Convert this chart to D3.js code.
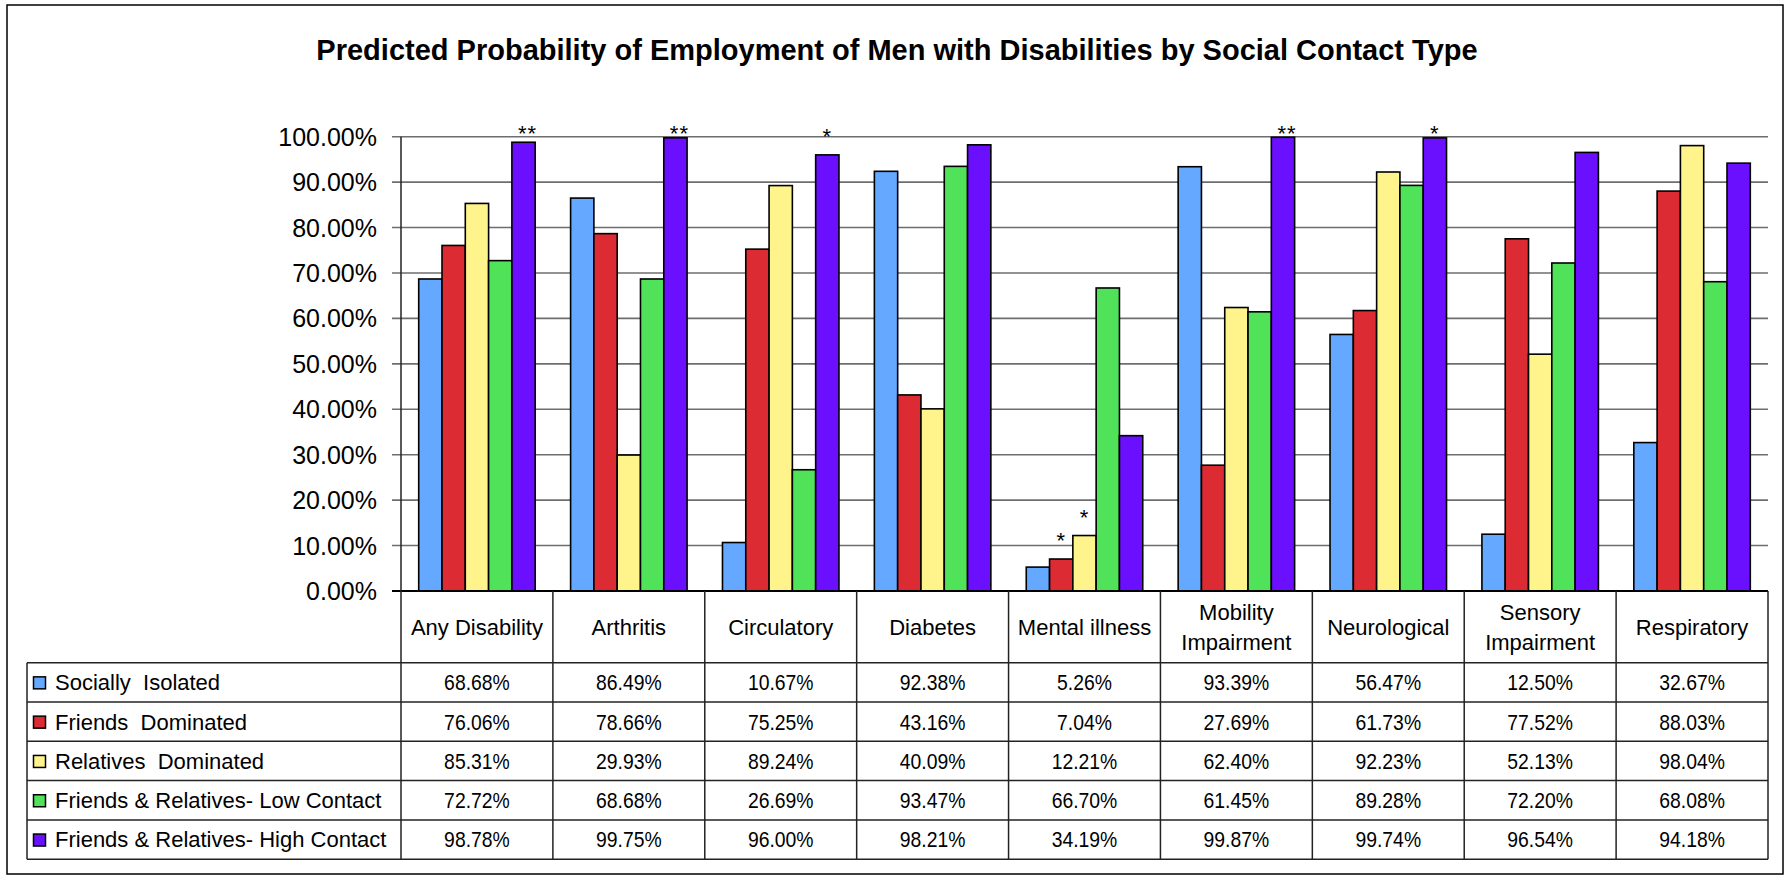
<!DOCTYPE html>
<html>
<head>
<meta charset="utf-8">
<script src="https://cdn.jsdelivr.net/npm/d3@7"></script>
<style>
  html, body { margin: 0; padding: 0; background: #fff; }
  svg { display: block; font-family: "Liberation Sans", Arial, sans-serif; }
</style>
</head>
<body>
<svg id="chart" width="1789" height="877"></svg>
<script>
// ---- Data ----
const title = "Predicted Probability of Employment of Men with Disabilities by Social Contact Type";
const categories = ["Any Disability", "Arthritis", "Circulatory", "Diabetes", "Mental illness",
  "Mobility Impairment", "Neurological", "Sensory Impairment", "Respiratory"];
const categoryLines = [["Any Disability"], ["Arthritis"], ["Circulatory"], ["Diabetes"], ["Mental illness"],
  ["Mobility", "Impairment"], ["Neurological"], ["Sensory", "Impairment"], ["Respiratory"]];
const seriesNames = ["Socially  Isolated", "Friends  Dominated", "Relatives  Dominated",
  "Friends & Relatives- Low Contact", "Friends & Relatives- High Contact"];
const seriesColors = ["#64A8FF", "#DC2B32", "#FFF48C", "#50E35A", "#6A10FF"];
const sociallyIsolated   = [68.68, 86.49, 10.67, 92.38, 5.26, 93.39, 56.47, 12.50, 32.67];
const friendsDominated   = [76.06, 78.66, 75.25, 43.16, 7.04, 27.69, 61.73, 77.52, 88.03];
const relativesDominated = [85.31, 29.93, 89.24, 40.09, 12.21, 62.40, 92.23, 52.13, 98.04];
const lowContact         = [72.72, 68.68, 26.69, 93.47, 66.70, 61.45, 89.28, 72.20, 68.08];
const highContact        = [98.78, 99.75, 96.00, 98.21, 34.19, 99.87, 99.74, 96.54, 94.18];
const yTicks = [0, 10, 20, 30, 40, 50, 60, 70, 80, 90, 100];
const annotations = [
  { cat: "Any Disability", series: 4, text: "**" },
  { cat: "Arthritis", series: 4, text: "**" },
  { cat: "Circulatory", series: 4, text: "*" },
  { cat: "Mental illness", series: 1, text: "*" },
  { cat: "Mental illness", series: 2, text: "*" },
  { cat: "Mobility Impairment", series: 4, text: "**" },
  { cat: "Neurological", series: 4, text: "*" }
];

const seriesValues = [sociallyIsolated, friendsDominated, relativesDominated, lowContact, highContact];

// ---- Layout ----
const W = 1789, H = 877;
const plotLeft = 401, plotRight = 1768, plotTop = 136.7, plotBottom = 591;
const tableLeft = 27, rowTop = 662.7, rowH = 39.3;

const svg = d3.select("#chart");

// outer frame
svg.append("rect").attr("x", 7).attr("y", 5).attr("width", 1776).attr("height", 869)
  .attr("fill", "#fff").attr("stroke", "#000").attr("stroke-width", 1.5);

// title
svg.append("text").attr("x", 897).attr("y", 60).attr("text-anchor", "middle")
  .attr("font-size", 29).attr("font-weight", "bold").attr("fill", "#000").text(title);

const x = d3.scaleBand().domain(categories).range([plotLeft, plotRight]).paddingInner(0).paddingOuter(0);
const xs = d3.scaleBand().domain(d3.range(seriesNames.length)).range([0, x.bandwidth()])
  .paddingInner(0).paddingOuter(0.76);
const y = d3.scaleLinear().domain([0, 100]).range([plotBottom, plotTop]);

// gridlines + tick marks
svg.append("g").selectAll("line").data(yTicks.filter(d => d > 0)).join("line")
  .attr("x1", plotLeft - 9).attr("x2", plotRight)
  .attr("y1", d => y(d)).attr("y2", d => y(d))
  .attr("stroke", "#6e6e6e").attr("stroke-width", 1.6);

// y axis labels
const fmt = d3.format(".2f");
svg.append("g").selectAll("text").data(yTicks).join("text")
  .attr("x", 377).attr("y", d => y(d)).attr("dy", "0.36em")
  .attr("text-anchor", "end").attr("font-size", 25).attr("fill", "#000")
  .text(d => fmt(d) + "%");

// bars
const barData = [];
categories.forEach((c, ci) => seriesValues.forEach((arr, si) => barData.push({ c, si, v: arr[ci] })));
svg.append("g").selectAll("rect").data(barData).join("rect")
  .attr("x", d => x(d.c) + xs(d.si))
  .attr("y", d => y(d.v))
  .attr("width", xs.bandwidth())
  .attr("height", d => y(0) - y(d.v))
  .attr("fill", d => seriesColors[d.si])
  .attr("stroke", "#000").attr("stroke-width", 1.6);

// annotations (significance stars)
svg.append("g").selectAll("text").data(annotations).join("text")
  .attr("x", d => x(d.cat) + xs(d.series) + xs.bandwidth() / 2 + (d.text.length > 1 ? 4 : 0))
  .attr("y", d => {
    const v = seriesValues[d.series][categories.indexOf(d.cat)];
    return Math.max(y(100) - 7, y(v) - 22) + 11;
  })
  .attr("text-anchor", "middle").attr("font-size", 22).attr("fill", "#000")
  .attr("letter-spacing", 1)
  .text(d => d.text);

// ---- Data table ----
const tbl = svg.append("g").attr("stroke", "#222").attr("stroke-width", 1.5);
tbl.append("line").attr("x1", plotLeft - 9).attr("x2", plotRight).attr("y1", plotBottom).attr("y2", plotBottom)
  .attr("stroke", "#000").attr("stroke-width", 2);
const tableBottom = rowTop + rowH * seriesNames.length;
tbl.append("line").attr("x1", plotLeft).attr("x2", plotLeft).attr("y1", plotTop).attr("y2", tableBottom);
tbl.selectAll("line.sep").data(categories).join("line").attr("class", "sep")
  .attr("x1", d => x(d) + x.bandwidth()).attr("x2", d => x(d) + x.bandwidth())
  .attr("y1", plotBottom).attr("y2", tableBottom);
tbl.selectAll("line.row").data(d3.range(seriesNames.length + 1)).join("line").attr("class", "row")
  .attr("x1", tableLeft).attr("x2", plotRight)
  .attr("y1", i => rowTop + i * rowH).attr("y2", i => rowTop + i * rowH);
tbl.append("line").attr("x1", tableLeft).attr("x2", tableLeft).attr("y1", rowTop).attr("y2", tableBottom);

// category headers
const hdr = svg.append("g").attr("font-size", 22).attr("fill", "#000").attr("text-anchor", "middle");
categories.forEach((c, ci) => {
  const lines = categoryLines[ci];
  const cx = x(c) + x.bandwidth() / 2;
  const cy = (plotBottom + rowTop) / 2;
  lines.forEach((ln, li) => {
    hdr.append("text").attr("x", cx)
      .attr("y", cy + (li - (lines.length - 1) / 2) * 30).attr("dy", "0.36em").text(ln);
  });
});

// legend keys + names
const leg = svg.append("g");
seriesNames.forEach((s, si) => {
  const cy = rowTop + si * rowH + rowH / 2;
  leg.append("rect").attr("x", 33.5).attr("y", cy - 5.5).attr("width", 12).attr("height", 12)
    .attr("fill", seriesColors[si]).attr("stroke", "#000").attr("stroke-width", 1.5);
  leg.append("text").attr("x", 55).attr("y", cy).attr("dy", "0.36em")
    .attr("font-size", 22).attr("fill", "#000").style("white-space", "pre").text(s);
});

// values
const vals = svg.append("g").attr("font-size", 22).attr("fill", "#000").attr("text-anchor", "middle");
seriesValues.forEach((arr, si) => {
  const cy = rowTop + si * rowH + rowH / 2;
  arr.forEach((v, ci) => {
    const cx = x(categories[ci]) + x.bandwidth() / 2;
    vals.append("text").attr("transform", `translate(${cx},${cy}) scale(0.88,1)`)
      .attr("dy", "0.36em").text(fmt(v) + "%");
  });
});
</script>
</body>
</html>
